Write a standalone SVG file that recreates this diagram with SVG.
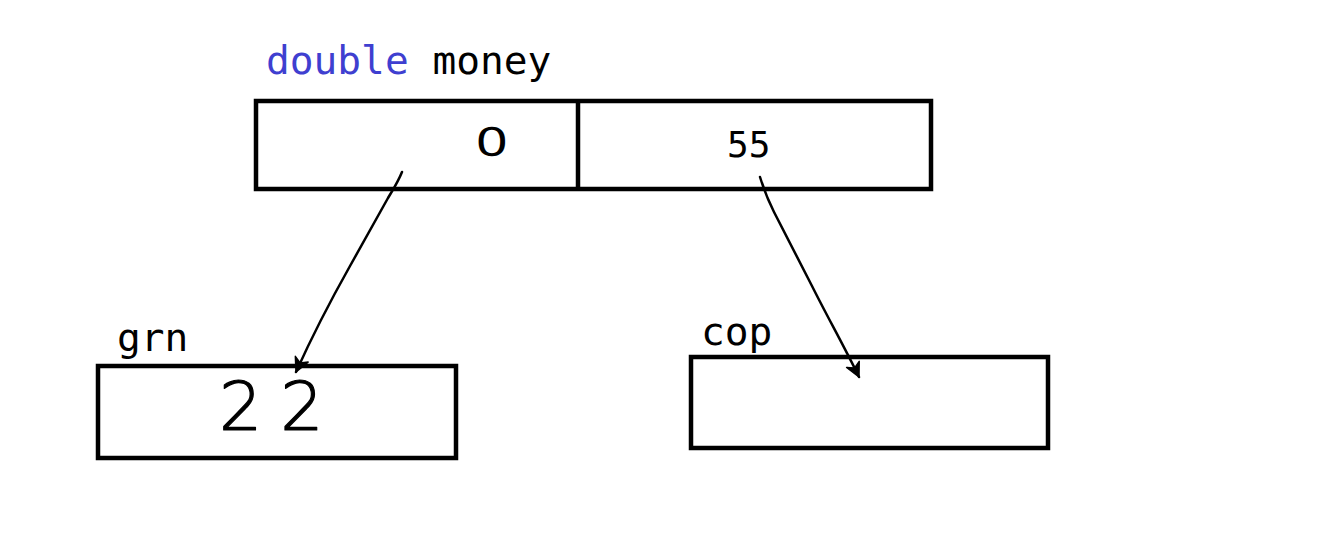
<svg xmlns="http://www.w3.org/2000/svg" width="1329" height="536" viewBox="0 0 1329 536">
<defs>
<style>
.box{fill:none;stroke:#000;stroke-width:4.5}
.mono{font-family:"DejaVu Sans Mono","Liberation Mono",monospace;fill:#000}
.hand{font-family:"DejaVu Sans","Liberation Sans",sans-serif;font-weight:200;fill:#000;stroke:#000;stroke-width:1.2;stroke-linejoin:round}
.conn{fill:none;stroke:#000;stroke-width:2.5;stroke-linecap:round;stroke-linejoin:round}
</style>
<marker id="ah" viewBox="0 0 20 20" refX="18" refY="10" markerWidth="20" markerHeight="20" markerUnits="userSpaceOnUse" orient="auto">
<path d="M4,3 L18,10 L4,17 L8,10 Z" fill="#000" stroke="#000" stroke-width="1.5" stroke-linejoin="round"/>
</marker>
</defs>
<rect width="1329" height="536" fill="#fff"/>
<g id="money">
<text class="mono" x="266" y="74" font-size="39.5"><tspan fill="#3f3fd0">double</tspan> money</text>
<rect class="box" x="256" y="101" width="675" height="88"/>
<line x1="578" y1="101" x2="578" y2="189" stroke="#000" stroke-width="4.5"/>
<text class="hand" x="0" y="0" font-size="38" transform="translate(475,155) scale(1.4,1)" style="stroke-width:1.6">0</text>
<text class="mono" x="727" y="157" font-size="36">55</text>
</g>
<g id="grn">
<text class="mono" x="117" y="351" font-size="39.5">grn</text>
<rect class="box" x="98" y="366" width="358" height="92"/>
<text class="hand" x="219" y="430" font-size="68" letter-spacing="18">22</text>
</g>
<g id="cop">
<text class="mono" x="701" y="345" font-size="39.5">cop</text>
<rect class="box" x="691" y="357" width="357" height="91"/>
</g>
<g id="connectors">
<path class="conn" marker-end="url(#ah)" d="M402,172 C398,182 394,188 388,198 L350,266 C332,298 314,332 296,372"/>
<path class="conn" marker-end="url(#ah)" d="M760,177 C764,190 768,200 774,212 L812,286 C828,318 844,346 859,377"/>
</g>
</svg>
